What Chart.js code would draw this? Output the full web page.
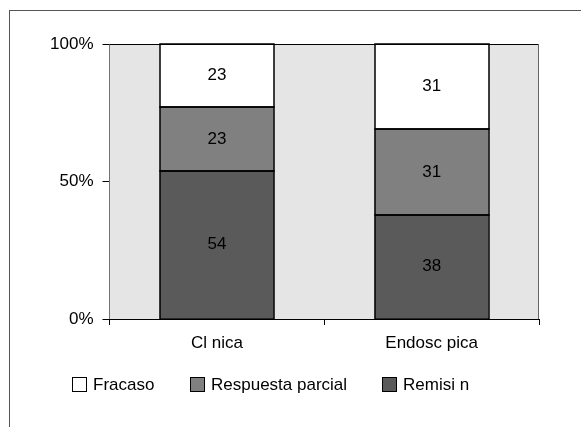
<!DOCTYPE html>
<html>
<head>
<meta charset="utf-8">
<script src="https://cdn.jsdelivr.net/npm/chart.js@4/dist/chart.umd.min.js"></script>
<style>
  html, body { margin: 0; padding: 0; background: #fff; }
  #wrap { position: relative; width: 581px; height: 427px; overflow: hidden; }
  #frame { position: absolute; left: 9px; top: 10px; width: 700px; height: 600px;
           border-left: 1px solid #555; border-top: 1px solid #555; pointer-events: none; }
  canvas { position: absolute; left: 0; top: 0; }
</style>
</head>
<body>
<div id="wrap">
  <canvas id="c" width="581" height="427"></canvas>
  <div id="frame"></div>
</div>
<script>
// Categories and percentage shares per outcome
const categories = ['Cl nica', 'Endosc pica'];
const remision = [54, 38];
const respuestaParcial = [23, 31];
const fracaso = [23, 31];
const yTicks = [0, 50, 100];

const FONT = { family: '"Liberation Sans", Arial, Helvetica, sans-serif', size: 17 };

// Gray plot area with its top and right border
const plotFrame = {
  id: 'plotFrame',
  beforeDatasetsDraw(chart) {
    const { ctx, chartArea: a } = chart;
    ctx.save();
    ctx.fillStyle = '#e5e5e5';
    ctx.fillRect(a.left, a.top, a.right - a.left, a.bottom - a.top);
    ctx.restore();
  },
  afterDatasetsDraw(chart) {
    const { ctx, chartArea: a } = chart;
    ctx.save();
    ctx.lineWidth = 1;
    ctx.strokeStyle = '#000';
    ctx.beginPath();
    ctx.moveTo(a.left, a.top + 0.5);
    ctx.lineTo(a.right, a.top + 0.5);
    ctx.stroke();
    ctx.strokeStyle = '#666';
    ctx.beginPath();
    ctx.moveTo(a.right - 0.5, a.top);
    ctx.lineTo(a.right - 0.5, a.bottom);
    ctx.stroke();
    ctx.restore();
  }
};

// Crisp outline around every segment, then its value in the middle
const segmentLabels = {
  id: 'segmentLabels',
  afterDatasetsDraw(chart) {
    const { ctx } = chart;
    ctx.save();
    ctx.strokeStyle = '#000';
    ctx.lineWidth = 1.5;
    chart.data.datasets.forEach((ds, i) => {
      chart.getDatasetMeta(i).data.forEach(bar => {
        const p = bar.getProps(['x', 'y', 'base', 'width'], true);
        const l = Math.round(p.x - p.width / 2), r = Math.round(p.x + p.width / 2);
        const t = Math.round(Math.min(p.y, p.base)), b = Math.round(Math.max(p.y, p.base));
        ctx.strokeRect(l, t, r - l, b - t);
      });
    });
    ctx.font = `${FONT.size}px ${FONT.family}`;
    ctx.fillStyle = '#000';
    ctx.textAlign = 'center';
    ctx.textBaseline = 'middle';
    chart.data.datasets.forEach((ds, i) => {
      chart.getDatasetMeta(i).data.forEach((bar, j) => {
        const p = bar.getProps(['x', 'y', 'base'], true);
        ctx.fillText(String(ds.data[j]), p.x, (p.y + p.base) / 2);
      });
    });
    ctx.restore();
  }
};

// One-row legend under the axis, top segment listed first
const bottomLegend = {
  id: 'bottomLegend',
  afterDraw(chart) {
    const { ctx } = chart;
    const items = chart.data.datasets.slice().reverse();
    const box = 14, gap = 7, spacing = 35.5, centerX = 270.5, centerY = 384;
    ctx.save();
    ctx.font = `${FONT.size}px ${FONT.family}`;
    const widths = items.map(d => box + gap + ctx.measureText(d.label).width);
    const total = widths.reduce((s, w) => s + w, 0) + spacing * (items.length - 1);
    let x = centerX - total / 2;
    items.forEach((d, i) => {
      const bx = Math.round(x), by = Math.round(centerY - box / 2);
      ctx.fillStyle = d.backgroundColor;
      ctx.fillRect(bx, by, box, box);
      ctx.lineWidth = 1;
      ctx.strokeStyle = '#000';
      ctx.strokeRect(bx + 0.5, by + 0.5, box, box);
      ctx.fillStyle = '#000';
      ctx.textAlign = 'left';
      ctx.textBaseline = 'middle';
      ctx.fillText(d.label, bx + box + gap, centerY + 1);
      x += widths[i] + spacing;
    });
    ctx.restore();
  }
};

new Chart(document.getElementById('c'), {
  type: 'bar',
  data: {
    labels: categories,
    datasets: [
      { label: 'Remisi n', data: remision, backgroundColor: '#5a5a5a' },
      { label: 'Respuesta parcial', data: respuestaParcial, backgroundColor: '#808080' },
      { label: 'Fracaso', data: fracaso, backgroundColor: '#ffffff' }
    ].map(d => Object.assign(d, {
      borderWidth: 0,
      categoryPercentage: 1, barPercentage: 0.53
    }))
  },
  options: {
    responsive: false,
    animation: false,
    events: [],
    layout: { padding: { left: 2, right: 42, top: 44, bottom: 65.6 } },
    plugins: {
      tooltip: { enabled: false },
      legend: { display: false }
    },
    scales: {
      x: {
        stacked: true,
        grid: { offset: true, drawOnChartArea: false, tickLength: 6, color: '#000' },
        border: { color: '#000', width: 1 },
        ticks: { color: '#000', font: FONT, padding: 8 }
      },
      y: {
        stacked: true,
        min: 0, max: 100,
        afterFit(s) { s.width = 107.5; },
        afterBuildTicks(s) { s.ticks = yTicks.map(v => ({ value: v })); },
        grid: { drawOnChartArea: false, tickLength: 7, color: '#000' },
        border: { color: '#000', width: 1 },
        ticks: { color: '#000', font: FONT, padding: 9, callback: v => v + '%' }
      }
    }
  },
  plugins: [plotFrame, segmentLabels, bottomLegend]
});
</script>
</body>
</html>
